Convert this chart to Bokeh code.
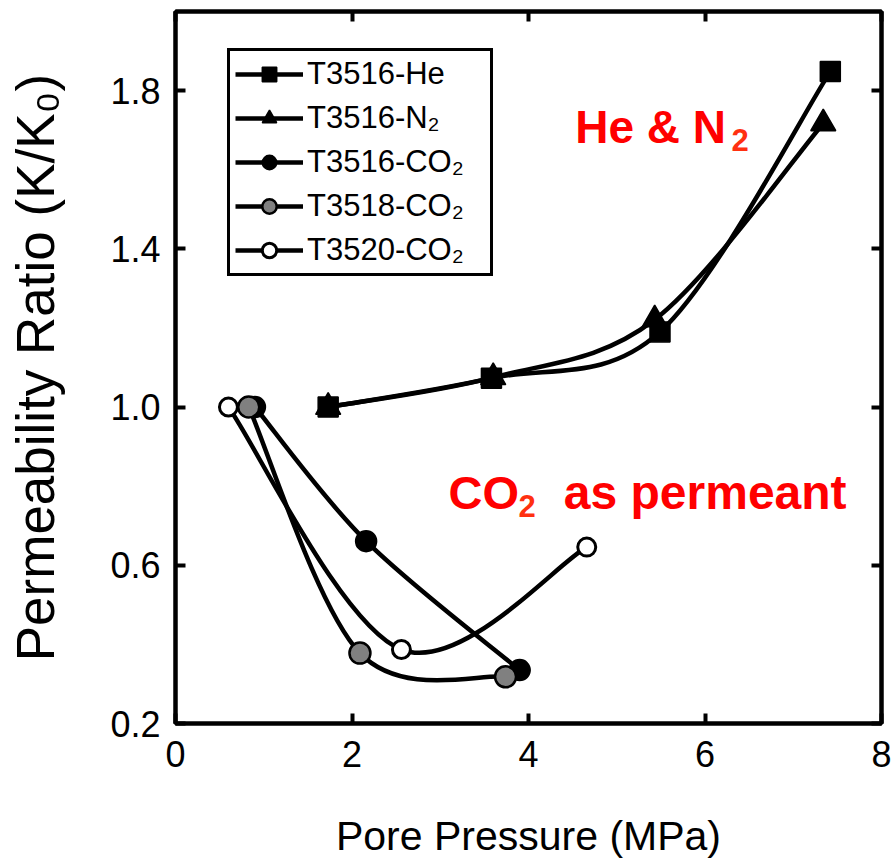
from bokeh.plotting import figure
from bokeh.models import (Range1d, FixedTicker, LinearAxis, Legend, LegendItem,
                          Label, PrintfTickFormatter, CustomLabelingPolicy)
from bokeh.embed import file_html
from bokeh.resources import INLINE

# ---- data ----
he_x = [1.73, 3.58, 5.49, 7.42]
he_y = [1.00, 1.073, 1.19, 1.848]
n2_x = [1.73, 3.60, 5.43, 7.34]
n2_y = [1.00, 1.075, 1.221, 1.717]
co2_3516_x = [0.90, 2.16, 3.90]
co2_3516_y = [1.00, 0.661, 0.335]
co2_3518_x = [0.83, 2.09, 3.74]
co2_3518_y = [1.00, 0.378, 0.318]
co2_3520_x = [0.60, 2.56, 4.66]
co2_3520_y = [1.00, 0.387, 0.646]

x_ticks = [0, 2, 4, 6, 8]
y_ticks = [0.2, 0.6, 1.0, 1.4, 1.8]

FONT = "Liberation Sans"

p = figure(frame_width=706, frame_height=712,
           x_range=Range1d(0, 8), y_range=Range1d(0.2, 2.0),
           output_backend="svg", toolbar_location=None,
           min_border_left=175, min_border_right=8, min_border_top=10,
           min_border_bottom=133)
p.background_fill_color = "white"
p.border_fill_color = "white"
p.xgrid.visible = False
p.ygrid.visible = False
p.outline_line_color = "black"
p.outline_line_width = 4

no_labels = CustomLabelingPolicy(
    code="const all = [...indices]; for (const i of all) { indices.unset(i) } return indices")


def style_axis(ax, ticks, labels=True):
    ax.ticker = FixedTicker(ticks=ticks)
    ax.minor_tick_line_color = None
    ax.major_tick_in = 10
    ax.major_tick_out = 0
    ax.major_tick_line_width = 4
    ax.major_tick_line_color = "black"
    ax.axis_line_width = 4
    ax.axis_line_color = "black"
    ax.major_label_text_font = FONT
    ax.major_label_text_color = "black"
    if not labels:
        ax.major_label_policy = no_labels
        ax.major_label_standoff = 0


style_axis(p.xaxis[0], x_ticks)
style_axis(p.yaxis[0], y_ticks)
p.xaxis[0].major_label_text_font_size = "36px"
p.yaxis[0].major_label_text_font_size = "36px"
p.xaxis[0].major_label_standoff = 17
p.yaxis[0].major_label_standoff = 15
p.yaxis[0].formatter = PrintfTickFormatter(format="%.1f")
p.xaxis[0].axis_label = "Pore Pressure (MPa)"
p.yaxis[0].axis_label = "Permeability Ratio (K/K\u2080)"
for ax in (p.xaxis[0], p.yaxis[0]):
    ax.axis_label_text_font = FONT
    ax.axis_label_text_font_style = "normal"
    ax.axis_label_text_color = "black"
p.xaxis[0].axis_label_text_font_size = "41px"
p.yaxis[0].axis_label_text_font_size = "53px"
p.xaxis[0].axis_label_standoff = 43
p.yaxis[0].axis_label_standoff = 42

top_ax = LinearAxis()
right_ax = LinearAxis()
style_axis(top_ax, x_ticks, labels=False)
style_axis(right_ax, y_ticks, labels=False)
p.add_layout(top_ax, "above")
p.add_layout(right_ax, "right")


def smooth(xs, ys):
    n = len(xs)
    out = dict(x0=[], y0=[], x1=[], y1=[], cx0=[], cy0=[], cx1=[], cy1=[])
    for i in range(n - 1):
        a = max(i - 1, 0)
        b = min(i + 2, n - 1)
        out["x0"].append(xs[i]); out["y0"].append(ys[i])
        out["x1"].append(xs[i + 1]); out["y1"].append(ys[i + 1])
        out["cx0"].append(xs[i] + (xs[i + 1] - xs[a]) / 6.0)
        out["cy0"].append(ys[i] + (ys[i + 1] - ys[a]) / 6.0)
        out["cx1"].append(xs[i + 1] - (xs[b] - xs[i]) / 6.0)
        out["cy1"].append(ys[i + 1] - (ys[b] - ys[i]) / 6.0)
    return out


series = [
    ("T3516-He", he_x, he_y, "square", 20, "black", 1.5),
    ("T3516-N\u2082", n2_x, n2_y, "triangle", 25, "black", 1.5),
    ("T3516-CO\u2082", co2_3516_x, co2_3516_y, "circle", 21, "black", 1.5),
    ("T3518-CO\u2082", co2_3518_x, co2_3518_y, "circle", 21, "#808080", 2.5),
    ("T3520-CO\u2082", co2_3520_x, co2_3520_y, "circle", 18, "white", 3),
]

items = []
for name, xs, ys, marker, size, fill, lw in series:
    c = smooth(xs, ys)
    br = p.bezier(x0=c["x0"], y0=c["y0"], x1=c["x1"], y1=c["y1"],
                  cx0=c["cx0"], cy0=c["cy0"], cx1=c["cx1"], cy1=c["cy1"],
                  line_color="black", line_width=4.5)
    sr = p.scatter(xs, ys, marker=marker, size=size, fill_color=fill,
                   line_color="black", line_width=lw)
    items.append(LegendItem(label=name, renderers=[br, sr]))

legend = Legend(items=items, location=(52, 447))
legend.label_text_font = FONT
legend.label_text_font_size = "31px"
legend.label_text_color = "black"
legend.glyph_width = 68
legend.glyph_height = 36
legend.spacing = 8
legend.padding = 5
legend.label_standoff = 4
legend.label_width = 178
legend.border_line_color = "black"
legend.border_line_alpha = 1.0
legend.border_line_width = 3
legend.background_fill_color = "white"
legend.background_fill_alpha = 1.0
legend.margin = 0
p.add_layout(legend, "center")

# ---- red annotations ----
RED = "#ff0000"
SUB = "#ff3010"
ann = [
    ("He & N", 4.53, 1.709, "46px", RED),
    ("2", 6.30, 1.674, "31px", SUB),
    ("CO", 3.093, 0.784, "47px", RED),
    ("2", 3.887, 0.749, "31px", SUB),
    ("as permeant", 4.40, 0.784, "48px", RED),
]
for txt, ax_, ay_, fs, col in ann:
    p.add_layout(Label(x=ax_, y=ay_, text=txt, text_font=FONT,
                       text_font_size=fs, text_font_style="bold",
                       text_color=col, text_align="left",
                       text_baseline="alphabetic"))

open("out.html", "w").write(file_html(p, INLINE))
